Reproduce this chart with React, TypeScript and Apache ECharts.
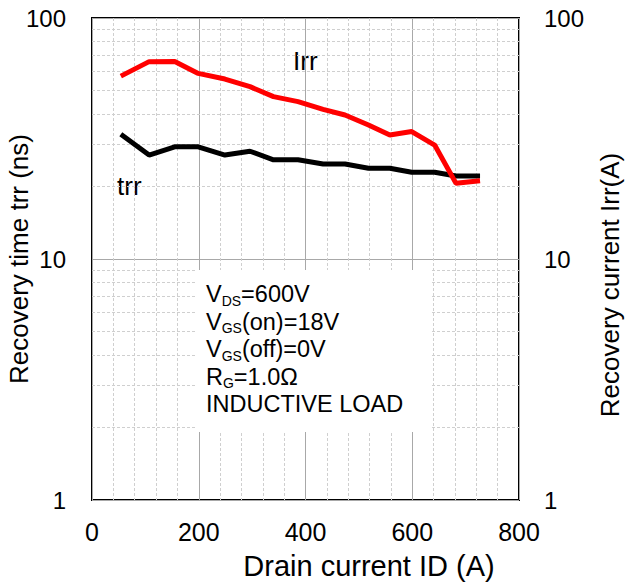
import React, { useEffect, useRef } from "react";
import * as echarts from "echarts";

const drainCurrent = [54, 107, 155, 199, 249, 296, 340, 386, 433, 474, 518, 558, 599, 642, 682, 727];
const trrValues = [32.9, 27, 29.2, 29.2, 27, 28, 25.8, 25.8, 24.8, 24.8, 23.8, 23.8, 22.9, 22.9, 22.1, 22.1];
const irrValues = [57.4, 65.9, 66, 58.9, 55.8, 51.9, 47.2, 45, 41.8, 39.6, 36, 32.7, 33.8, 29.7, 20.6, 21.1];
const minorLogLines = [2, 3, 4, 5, 6, 7, 8, 9, 20, 30, 40, 50, 60, 70, 80, 90];
const conditionLines = [
  "{n|V}{s|DS}{n|=600V}",
  "{n|V}{s|GS}{n|(on)=18V}",
  "{n|V}{s|GS}{n|(off)=0V}",
  "{n|R}{s|G}{n|=1.0Ω}",
  "{n|INDUCTIVE LOAD}",
];
const xTitle = "Drain current ID (A)";
const leftTitle = "Recovery time trr (ns)";
const rightTitle = "Recovery current Irr(A)";

const FONT = "'Liberation Sans', Arial, sans-serif";

export default function App() {
  const ref = useRef<HTMLDivElement>(null);
  useEffect(() => {
    if (!ref.current) return;
    const chart = echarts.init(ref.current, undefined, { renderer: "svg" });
    const pair = (ys: number[]) => drainCurrent.map((x, i) => [x, ys[i]]);
    chart.setOption({
      animation: false,
      backgroundColor: "#ffffff",
      textStyle: { fontFamily: FONT },
      grid: {
        left: 92,
        right: 106,
        top: 18,
        bottom: 84,
        show: true,
        borderColor: "#000",
        borderWidth: 2,
        backgroundColor: "transparent",
        outerBoundsMode: "none",
        containLabel: false,
      },
      xAxis: {
        type: "value",
        min: 0,
        max: 800,
        interval: 200,
        axisLine: { show: false },
        axisTick: { show: false },
        axisLabel: { fontSize: 25, color: "#000", margin: 19, fontFamily: FONT },
        splitLine: { show: true, lineStyle: { color: "#a8a8a8", width: 1 } },
        minorTick: { show: false, splitNumber: 5 },
        minorSplitLine: { show: true, lineStyle: { color: "#cfcfcf", width: 1, type: [3, 2] } },
      },
      yAxis: [
        {
          type: "log",
          logBase: 10,
          min: 1,
          max: 100,
          position: "left",
          axisLine: { show: false },
          axisTick: { show: false },
          axisLabel: { fontSize: 24, color: "#000", margin: 26, fontFamily: FONT },
          splitLine: { show: true, lineStyle: { color: "#a8a8a8", width: 1 } },
        },
        {
          type: "log",
          logBase: 10,
          min: 1,
          max: 100,
          position: "right",
          axisLine: { show: false },
          axisTick: { show: false },
          axisLabel: { fontSize: 24, color: "#000", margin: 25, fontFamily: FONT },
          splitLine: { show: false },
        },
      ],
      series: [
        {
          name: "trr",
          type: "line",
          yAxisIndex: 0,
          data: pair(trrValues),
          showSymbol: false,
          lineStyle: { color: "#000", width: 5 },
          z: 3,
          markLine: {
            silent: true,
            symbol: "none",
            label: { show: false },
            lineStyle: { color: "#cfcfcf", width: 1, type: [3, 2] },
            data: minorLogLines.map((v) => ({ yAxis: v })),
            z: 1,
          },
        },
        {
          name: "Irr",
          type: "line",
          yAxisIndex: 1,
          data: pair(irrValues),
          showSymbol: false,
          lineStyle: { color: "#ff0000", width: 5 },
          z: 4,
        },
      ],
      graphic: [
        {
          type: "text",
          x: 369,
          y: 566,
          style: { text: xTitle, fontSize: 29, fill: "#000", fontFamily: FONT, align: "center", verticalAlign: "middle" },
        },
        {
          type: "text",
          x: 19,
          y: 259,
          rotation: Math.PI / 2,
          style: { text: leftTitle, fontSize: 26, fill: "#000", fontFamily: FONT, align: "center", verticalAlign: "middle" },
        },
        {
          type: "text",
          x: 610,
          y: 285,
          rotation: Math.PI / 2,
          style: { text: rightTitle, fontSize: 26, fill: "#000", fontFamily: FONT, align: "center", verticalAlign: "middle" },
        },
        {
          type: "text",
          left: 293,
          top: 48,
          style: { text: "Irr", fontSize: 26, fill: "#000", fontFamily: FONT },
        },
        {
          type: "text",
          left: 117,
          top: 173,
          style: { text: "trr", fontSize: 26, fill: "#000", fontFamily: FONT },
        },
        {
          type: "rect",
          shape: { x: 197, y: 270, width: 234, height: 162 },
          style: { fill: "#ffffff" },
          z: 10,
        },
        {
          type: "text",
          left: 206,
          top: 282,
          z: 11,
          style: {
            text: conditionLines.join("\n"),
            fill: "#000",
            fontFamily: FONT,
            rich: {
              n: { fontSize: 23.5, lineHeight: 27.5, fontFamily: FONT, fill: "#000" },
              s: { fontSize: 14, lineHeight: 16, verticalAlign: "bottom", fontFamily: FONT, fill: "#000" },
            },
          },
        },
      ],
    });
    return () => chart.dispose();
  }, []);
  return (
    <div
      ref={ref}
      style={{ position: "fixed", left: 0, top: 0, width: 625, height: 584 }}
    />
  );
}
